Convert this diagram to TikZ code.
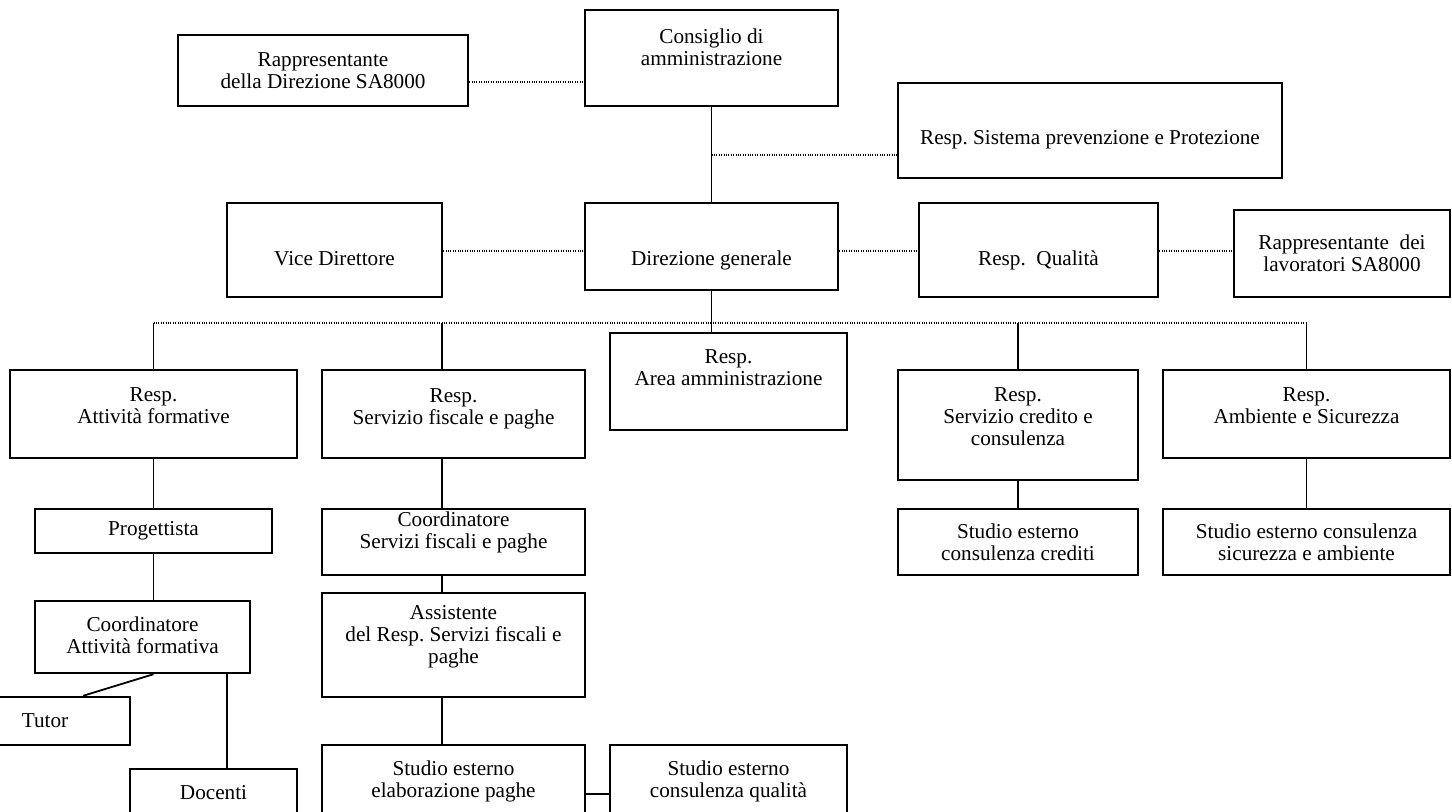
\documentclass[tikz,border=0pt]{standalone}
\usepackage{fontspec}
\setmainfont{Liberation Serif}
\usetikzlibrary{fit}

\tikzset{
  box/.style={draw, line width=1.2pt, inner sep=0pt},
  lbl/.style={align=center, font=\fontsize{10.6}{11}\selectfont\frenchspacing},
  link/.style={line width=0.9pt},
  dotlink/.style={line width=0.7pt, dash pattern=on 0.5pt off 0.7pt}
}

\begin{document}
\begin{tikzpicture}[x=0.5pt, y=-0.5pt]
    \useasboundingbox (0,0) rectangle (1452,811);
    % top row
    \node[box, fit={(178,35)(468,106)},
      label={[lbl]center:Rappresentante\\della Direzione SA8000}] (rdir) {};
    \node[box, fit={(585,10)(838,106)},
      label={[lbl, yshift=5.5pt]center:Consiglio di\\amministrazione}] (cda) {};
    \node[box, fit={(898,83)(1282,178)},
      label={[lbl, yshift=-4.75pt]center:Resp. Sistema prevenzione e Protezione}] (rspp) {};
    % direzione row
    \node[box, fit={(227,203)(442,297)},
      label={[lbl, yshift=-4.5pt]center:Vice Direttore}] (vice) {};
    \node[box, fit={(585,203)(838,290)},
      label={[lbl, yshift=-6.75pt]center:Direzione generale}] (dg) {};
    \node[box, fit={(919,203)(1158,297)},
      label={[lbl, yshift=-5pt]center:Resp.~~Qualità}] (qual) {};
    \node[box, fit={(1234,210)(1450,297)},
      label={[lbl]center:Rappresentante~~dei\\lavoratori SA8000}] (rlav) {};
    % responsabili
    \node[box, fit={(10,370)(297,458)},
      label={[lbl, yshift=4pt]center:Resp.\\Attività formative}] (form) {};
    \node[box, fit={(322,370)(585,458)},
      label={[lbl, yshift=2.5pt]center:Resp.\\Servizio fiscale e paghe}] (fisc) {};
    \node[box, fit={(610,333)(847,430)},
      label={[lbl, yshift=6.75pt]center:Resp.\\Area amministrazione}] (area) {};
    \node[box, fit={(898,370)(1138,480)},
      label={[lbl, yshift=4pt]center:Resp.\\Servizio credito e\\consulenza}] (cred) {};
    \node[box, fit={(1163,370)(1450,458)},
      label={[lbl, yshift=4pt]center:Resp.\\Ambiente e Sicurezza}] (amb) {};
    % attivita formative
    \node[box, fit={(35,509)(272,553)},
      label={[lbl]center:Progettista}] (prog) {};
    \node[box, fit={(35,601)(250,673)},
      label={[lbl, yshift=1pt]center:Coordinatore\\Attività formativa}] (coordatt) {};
    \node[box, fit={(-40,697)(130,745)},
      label={[lbl]center:Tutor}] (tutor) {};
    \node[box, fit={(130,769)(297,817)},
      label={[lbl]center:Docenti}] (doc) {};
    % servizio fiscale
    \node[box, fit={(322,509)(585,575)},
      label={[lbl, yshift=5pt]center:Coordinatore\\Servizi fiscali e paghe}] (cfisc) {};
    \node[box, fit={(322,593)(585,697)},
      label={[lbl, yshift=4pt]center:Assistente\\del Resp. Servizi fiscali e\\paghe}] (assist) {};
    \node[box, fit={(322,745)(585,817)},
      label={[lbl]center:Studio esterno\\elaborazione paghe}] (elab) {};
    \node[box, fit={(610,745)(847,817)},
      label={[lbl]center:Studio esterno\\consulenza qualità}] (qualest) {};
    % studi esterni
    \node[box, fit={(898,509)(1138,575)},
      label={[lbl]center:Studio esterno\\consulenza crediti}] (credest) {};
    \node[box, fit={(1163,509)(1450,575)},
      label={[lbl]center:Studio esterno consulenza\\sicurezza e ambiente}] (sicest) {};

    % helper coordinates
    \coordinate (yA) at (0,82);
    \coordinate (yB) at (0,155);
    \coordinate (yC) at (0,251);
    \coordinate (yD) at (0,323);
    \coordinate (yE) at (0,794);
    \coordinate (xF) at (442,0);
    \coordinate (xT) at (83,0);
    \coordinate (xD) at (227,0);

    % connectors
    \draw[dotlink] (rdir.east |- yA) -- (cda.west |- yA);
    \draw[link] (cda.south) -- (dg.north);
    \draw[dotlink] (cda.south |- yB) -- (rspp.west |- yB);
    \draw[dotlink] (vice.east |- yC) -- (dg.west |- yC);
    \draw[dotlink] (dg.east |- yC) -- (qual.west |- yC);
    \draw[dotlink] (qual.east |- yC) -- (rlav.west |- yC);
    \draw[link] (dg.south) -- (dg.south |- area.north);
    \draw[dotlink] (form.north |- yD) -- (amb.north |- yD);
    \draw[link] (form.north |- yD) -- (form.north);
    \draw[link] (xF |- yD) -- (xF |- fisc.north);
    \draw[link] (cred.north |- yD) -- (cred.north);
    \draw[link] (amb.north |- yD) -- (amb.north);
    \draw[link] (form.south) -- (form.south |- prog.north);
    \draw[link] (prog.south) -- (prog.south |- coordatt.north);
    \draw[link] (prog.south |- coordatt.south) -- (xT |- tutor.north);
    \draw[link] (xD |- coordatt.south) -- (xD |- doc.north);
    \draw[link] (xF |- fisc.south) -- (xF |- cfisc.north);
    \draw[link] (xF |- cfisc.south) -- (xF |- assist.north);
    \draw[link] (xF |- assist.south) -- (xF |- elab.north);
    \draw[link] (elab.east |- yE) -- (qualest.west |- yE);
    \draw[link] (cred.south) -- (credest.north);
    \draw[link] (amb.south) -- (sicest.north);
\end{tikzpicture}
\end{document}
